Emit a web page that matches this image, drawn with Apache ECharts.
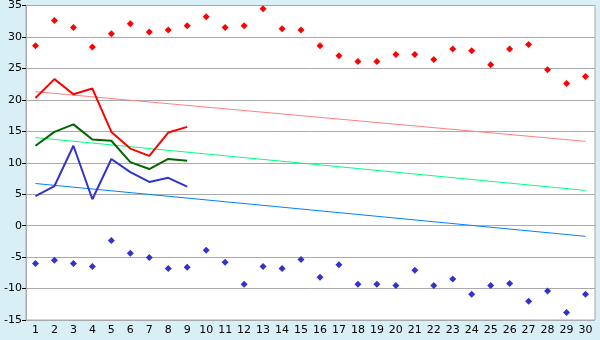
<!DOCTYPE html>
<html>
<head>
<meta charset="utf-8">
<script src="https://cdn.jsdelivr.net/npm/echarts@6/dist/echarts.min.js"></script>
<style>
  html, body { margin: 0; padding: 0; background: #d9eff6; }
  #chart { width: 600px; height: 340px; }
</style>
</head>
<body>
<div id="chart"></div>
<script>
const days = Array.from({ length: 30 }, (_, i) => String(i + 1));

const maxTemps = [28.6, 32.6, 31.5, 28.4, 30.5, 32.1, 30.8, 31.1, 31.8, 33.2,
  31.5, 31.8, 34.5, 31.3, 31.1, 28.6, 27.0, 26.1, 26.1, 27.2,
  27.2, 26.4, 28.1, 27.8, 25.6, 28.1, 28.8, 24.8, 22.6, 23.7];
const minTemps = [-6.0, -5.5, -6.0, -6.5, -2.35, -4.4, -5.05, -6.8, -6.6, -3.9,
  -5.8, -9.3, -6.5, -6.8, -5.4, -8.2, -6.2, -9.3, -9.3, -9.5,
  -7.1, -9.5, -8.5, -10.9, -9.5, -9.2, -12.0, -10.4, -13.8, -10.9];

const highLine = [20.3, 23.3, 20.9, 21.8, 14.9, 12.25, 11.1, 14.8, 15.7];
const meanLine = [12.7, 14.9, 16.1, 13.7, 13.5, 10.1, 9.0, 10.6, 10.3];
const lowLine = [4.7, 6.3, 12.7, 4.2, 10.6, 8.5, 6.95, 7.6, 6.2];

// trend endpoints: [day index, value]
const highTrend = [[0, 21.3], [29, 13.4]];
const meanTrend = [[0, 14.0], [29, 5.6]];
const lowTrend = [[0, 6.7], [29, -1.7]];

const chart = echarts.init(document.getElementById('chart'));

const font = { fontFamily: 'DejaVu Sans', fontSize: 11, color: '#000' };

function lineSeries(data, color, width) {
  return {
    type: 'line',
    data: data,
    symbol: 'none',
    lineStyle: { color: color, width: width },
    itemStyle: { color: color },
    animation: false,
    silent: true
  };
}

function dots(data, color) {
  return {
    type: 'scatter',
    data: data,
    symbol: 'diamond',
    symbolSize: 7,
    itemStyle: { color: color, opacity: 1 },
    animation: false
  };
}

chart.setOption({
  backgroundColor: '#d9eff6',
  grid: {
    left: 26, right: 5, top: 5, bottom: 20,
    show: true, backgroundColor: '#fff', borderColor: '#aaa', borderWidth: 1
  },
  xAxis: {
    type: 'category',
    data: days,
    boundaryGap: true,
    axisLine: { lineStyle: { color: '#aaa' } },
    axisTick: { alignWithLabel: true, length: 5, lineStyle: { color: '#000' } },
    axisLabel: Object.assign({ margin: 5, interval: 0 }, font),
    splitLine: { show: false }
  },
  yAxis: {
    type: 'value',
    min: -15,
    max: 35,
    interval: 5,
    axisLine: { show: true, lineStyle: { color: '#aaa' } },
    axisTick: { show: true, length: 4, lineStyle: { color: '#000' } },
    axisLabel: Object.assign({ margin: 4 }, font),
    splitLine: { lineStyle: { color: '#aaa', width: 1 } }
  },
  series: [
    lineSeries(highTrend, '#ff8080', 1),
    lineSeries(meanTrend, '#00ff80', 1),
    lineSeries(lowTrend, '#0080ff', 1),
    lineSeries(highLine, '#ff0000', 2),
    lineSeries(meanLine, '#006600', 2),
    lineSeries(lowLine, '#3333cc', 2),
    dots(maxTemps, '#ff0000'),
    dots(minTemps, '#3333cc')
  ]
});
</script>
</body>
</html>
